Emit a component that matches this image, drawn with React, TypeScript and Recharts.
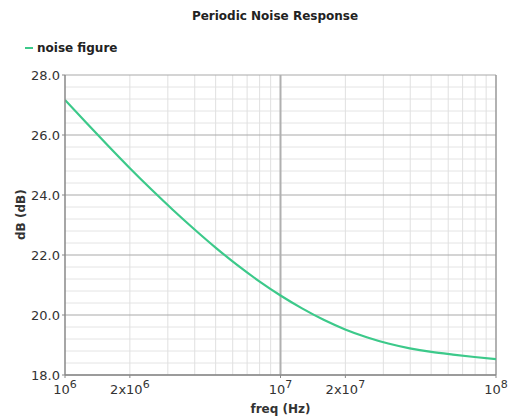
import { LineChart, Line, XAxis, YAxis, ReferenceLine } from 'recharts';

// frequency points (Hz) and noise figure values (dB)
const FREQ = [
  1e6, 1.259e6, 1.585e6, 1.995e6, 2.512e6, 3.162e6, 3.981e6, 5.012e6, 6.31e6, 7.943e6,
  1e7, 1.259e7, 1.585e7, 1.995e7, 2.512e7, 3.162e7, 3.981e7, 5.012e7, 6.31e7, 7.943e7, 1e8,
];
const NF = [
  27.17, 26.4, 25.64, 24.9, 24.19, 23.51, 22.86, 22.24, 21.66, 21.13,
  20.65, 20.22, 19.84, 19.52, 19.26, 19.05, 18.89, 18.77, 18.68, 18.6, 18.53,
];

const X_TICKS = [1e6, 2e6, 1e7, 2e7, 1e8];
const X_MINOR = [2e6, 3e6, 4e6, 5e6, 6e6, 7e6, 8e6, 9e6, 2e7, 3e7, 4e7, 5e7, 6e7, 7e7, 8e7, 9e7];
const Y_TICKS = [18, 20, 22, 24, 26, 28];
const Y_MINOR = [
  18.4, 18.8, 19.2, 19.6, 20.4, 20.8, 21.2, 21.6, 22.4, 22.8, 23.2, 23.6,
  24.4, 24.8, 25.2, 25.6, 26.4, 26.8, 27.2, 27.6,
];

const data = FREQ.map((f, i) => ({ f, nf: NF[i] }));
const FONT = '"DejaVu Sans", Verdana, sans-serif';
const GREEN = '#3cc98a';

function FreqTick({ x, y, payload }: any) {
  const v: number = payload.value;
  const exp = Math.round(Math.log10(v));
  const mant = Math.round(v / Math.pow(10, exp));
  const base = mant === 1 ? '10' : `${mant}x10`;
  return (
    <text x={x} y={y + 14} textAnchor="middle" fontFamily={FONT} fontSize={13} fill="#333">
      {base}
      <tspan dy={-6} fontSize={11}>{exp}</tspan>
    </text>
  );
}

export default function App() {
  // fixed so the chart sits on the page's own pixel grid without scrollbars
  return (
    <div style={{ position: 'fixed', top: 0, left: 0, width: 513, height: 418, background: '#fff' }}>
      <div style={{ position: 'absolute', top: 9, left: 0, width: 550, textAlign: 'center', fontFamily: FONT, fontSize: 12, fontWeight: 'bold', color: '#222' }}>
        Periodic Noise Response
      </div>
      <div style={{ position: 'absolute', top: 41, left: 25, display: 'flex', alignItems: 'center', fontFamily: FONT, fontSize: 12, fontWeight: 'bold', color: '#222' }}>
        <span style={{ display: 'inline-block', width: 8, height: 1.5, background: GREEN, marginRight: 4 }} />
        noise figure
      </div>
      <LineChart width={513} height={418} data={data} margin={{ top: 75, right: 17, bottom: 3, left: 15 }}>
        {Y_MINOR.map((v) => (
          <ReferenceLine key={`ym${v}`} y={v} stroke="#e4e4e4" strokeWidth={1} />
        ))}
        {X_MINOR.map((v) => (
          <ReferenceLine key={`xm${v}`} x={v} stroke="#e0e0e0" strokeWidth={1} />
        ))}
        {Y_TICKS.map((v) => (
          <ReferenceLine key={`yM${v}`} y={v} stroke="#aaa" strokeWidth={1.2} />
        ))}
        <ReferenceLine x={1e7} stroke="#b0b0b0" strokeWidth={2} />
        <ReferenceLine x={1e8} stroke="#999" strokeWidth={1.5} />
        <XAxis
          dataKey="f"
          type="number"
          scale="log"
          domain={[1e6, 1e8]}
          ticks={X_TICKS}
          interval={0}
          tick={<FreqTick />}
          axisLine={{ stroke: '#888', strokeWidth: 1.5 }}
          tickLine={{ stroke: '#888' }}
          tickSize={3}
          height={40}
          allowDataOverflow
          label={{ value: 'freq (Hz)', position: 'insideBottom', offset: 2, fontFamily: FONT, fontSize: 12, fontWeight: 'bold', fill: '#333' }}
        />
        <YAxis
          type="number"
          domain={[18, 28]}
          ticks={Y_TICKS}
          interval={0}
          tickFormatter={(v: number) => v.toFixed(1)}
          tick={{ fontFamily: FONT, fontSize: 13, fill: '#333' }}
          axisLine={{ stroke: '#888', strokeWidth: 1.5 }}
          tickLine={{ stroke: '#888' }}
          tickSize={3}
          width={50}
          label={{ value: 'dB (dB)', angle: -90, position: 'insideLeft', offset: 6, dy: 15, fontFamily: FONT, fontSize: 12, fontWeight: 'bold', fill: '#333' }}
        />
        <Line
          type="monotone"
          dataKey="nf"
          stroke={GREEN}
          strokeWidth={2.2}
          dot={false}
          isAnimationActive={false}
        />
      </LineChart>
    </div>
  );
}
